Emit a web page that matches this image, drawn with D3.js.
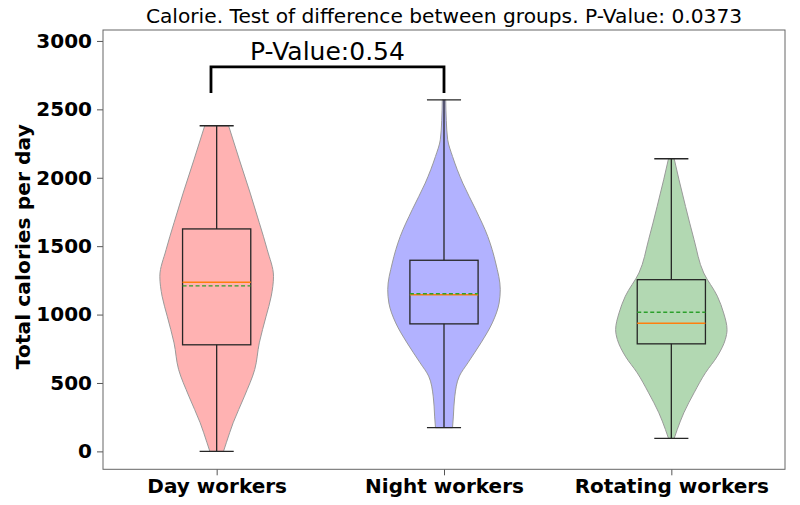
<!DOCTYPE html>
<html><head><meta charset="utf-8">
<script src="https://cdn.jsdelivr.net/npm/d3@7"></script>
<style>body{margin:0;background:#fff}svg{display:block}text{font-family:"DejaVu Sans",sans-serif}</style>
</head><body><svg id="c" width="800" height="505"></svg>
<script>
const categories = ["Day workers", "Night workers", "Rotating workers"];
const positions = [1, 2, 3];
const yTicks = [0, 500, 1000, 1500, 2000, 2500, 3000];
const title = "Calorie. Test of difference between groups. P-Value: 0.0373";
const yLabel = "Total calories per day";
// violin outline samples: [calories, relative half-width]
const dayViolin = [[0,.12],[63,.17],[209,.29],[404,.49],[599,.67],[793,.75],[988,.87],[1134,.96],[1280,1.0],[1474,.89],[1671,.75],[1888,.59],[2131,.40],[2380,.21]];
const nightViolin = [[173,.15],[258,.165],[404,.19],[550,.27],[647,.42],[793,.65],[939,.85],[1085,.97],[1182,.99],[1377,.91],[1571,.77],[1766,.56],[1961,.33],[2156,.15],[2277,.065],[2420,.04],[2569,.03]];
const rotViolin = [[95,.05],[161,.105],[282,.22],[428,.40],[574,.60],[696,.81],[818,.95],[890,.98],[1012,.92],[1134,.81],[1304,.57],[1547,.40],[1790,.25],[1985,.135],[2139,.05]];
// box stats: whisker low, Q1, median, Q3, whisker high, mean
const whiskerLow = [0, 173, 95];
const q1 = [779, 932, 786];
const medians = [1236, 1145, 937];
const q3 = [1626, 1397, 1255];
const whiskerHigh = [2380, 2569, 2139];
const means = [1209, 1152, 1017];
const violinFill = ["#ffb2b2", "#b2b2ff", "#b2d8b2"];
const bracketX = [0.975, 2.0];
const bracketY = [2620, 2810];
const bracketLabel = "P-Value:0.54";

const violins = [dayViolin, nightViolin, rotViolin];
const svg = d3.select("#c");
const L = 103, R = 785, T = 30, B = 469.3;
const x = d3.scaleLinear().domain([0.5, 3.5]).range([L, R]);
const y = d3.scaleLinear().domain([-131, 3080]).range([B, T]);
const unit = x(1) - x(0);
const halfW = 0.25 * unit, boxHalf = 0.15 * unit, capHalf = 0.075 * unit;

const g = svg.append("g");
violins.forEach((v, i) => {
  const cx = x(positions[i]);
  const area = d3.area().y(d => y(d[0])).x0(d => cx - d[1] * halfW).x1(d => cx + d[1] * halfW).curve(d3.curveMonotoneY);
  g.append("path").attr("d", area(v)).attr("fill", violinFill[i]).attr("stroke", "#9a9a9a").attr("stroke-width", 1);
});
positions.forEach((p, i) => {
  const cx = x(p);
  const s = {stroke: "#262626", "stroke-width": 1.3, fill: "none"};
  const line = (x1, y1, x2, y2, st) => { const l = g.append("line").attr("x1", x1).attr("y1", y1).attr("x2", x2).attr("y2", y2); Object.entries(st).forEach(([k, vv]) => l.attr(k, vv)); return l; };
  line(cx, y(whiskerLow[i]), cx, y(q1[i]), s);
  line(cx, y(q3[i]), cx, y(whiskerHigh[i]), s);
  line(cx - capHalf, y(whiskerLow[i]), cx + capHalf, y(whiskerLow[i]), s);
  line(cx - capHalf, y(whiskerHigh[i]), cx + capHalf, y(whiskerHigh[i]), s);
  g.append("rect").attr("x", cx - boxHalf).attr("y", y(q3[i])).attr("width", 2 * boxHalf).attr("height", y(q1[i]) - y(q3[i])).attr("fill", "none").attr("stroke", "#262626").attr("stroke-width", 1.3);
  line(cx - boxHalf, y(medians[i]), cx + boxHalf, y(medians[i]), {stroke: "#ff7f0e", "stroke-width": 1.5});
  line(cx - boxHalf, y(means[i]), cx + boxHalf, y(means[i]), {stroke: "#2ca02c", "stroke-width": 1.3, "stroke-dasharray": "4,2.5"});
});
// bracket
svg.append("path").attr("d", d3.line()([[x(bracketX[0]), y(bracketY[0])], [x(bracketX[0]), y(bracketY[1])], [x(bracketX[1]), y(bracketY[1])], [x(bracketX[1]), y(bracketY[0])]]))
  .attr("fill", "none").attr("stroke", "#000").attr("stroke-width", 2.8).attr("stroke-linejoin", "miter");
svg.append("text").attr("x", (x(bracketX[0]) + x(bracketX[1])) / 2).attr("y", 59.5).attr("text-anchor", "middle").attr("font-size", 25).text(bracketLabel);

// axes
const ya = svg.append("g").attr("transform", `translate(${L},0)`).call(d3.axisLeft(y).tickValues(yTicks).tickFormat(d3.format("d")).tickSize(6).tickPadding(5));
ya.select(".domain").remove();
ya.selectAll("text").attr("font-size", 20).attr("font-weight", "bold").attr("font-family", "DejaVu Sans").attr("fill", "#000");
ya.selectAll("line").attr("stroke", "#555");
const xa = svg.append("g").attr("transform", `translate(0,${B})`).call(d3.axisBottom(x).tickValues(positions).tickFormat((d, i) => categories[i]).tickSize(6).tickPadding(4));
xa.select(".domain").remove();
xa.selectAll("text").attr("font-size", 20).attr("font-weight", "bold").attr("font-family", "DejaVu Sans").attr("fill", "#000");
xa.selectAll("line").attr("stroke", "#555");
svg.append("rect").attr("x", L).attr("y", T).attr("width", R - L).attr("height", B - T).attr("fill", "none").attr("stroke", "#666").attr("stroke-width", 1);

svg.append("text").attr("x", (L + R) / 2).attr("y", 23).attr("text-anchor", "middle").attr("font-size", 20.2).text(title);
svg.append("text").attr("transform", `translate(30,${(T + B) / 2 - 3}) rotate(-90)`).attr("text-anchor", "middle").attr("font-size", 20.3).attr("font-weight", "bold").text(yLabel);
</script></body></html>
